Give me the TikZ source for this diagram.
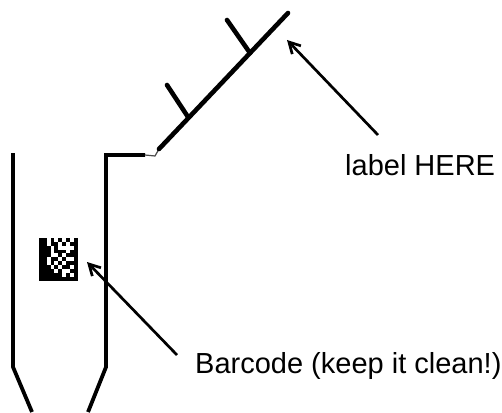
\documentclass[tikz,border=0pt]{standalone}
\usepackage{fontspec}
\setmainfont{Liberation Sans}
\usetikzlibrary{arrows.meta}

\tikzstyle{tubeWall} = [draw, line width=3.8pt, line cap=butt, line join=miter]
\tikzstyle{flagLine} = [draw, line width=4.6pt, line cap=round]
\tikzstyle{neckLine} = [draw, line width=1.2pt, black!70]
\tikzstyle{callout} = [draw, line width=2.7pt, -{Straight Barb[length=11pt,width=12pt,line width=2.7pt]}]
\tikzstyle{noteText} = [anchor=base west, inner sep=0pt, font=\fontsize{29}{34}\selectfont]

\begin{document}
\begin{tikzpicture}[x=1pt, y=-1pt]
		\useasboundingbox (0,0) rectangle (502,412);

		% tube body
		\path [tubeWall] (13,153) -- (13,367) -- (32,412);
		\path [tubeWall] (88,412) -- (106,367) -- (106,155) -- (145,155);
		\path [neckLine] (145,155) -- (155,156) -- (159,149);

		% label flag with its two ticks
		\path [flagLine] (159,149) -- (288,13);
		\path [flagLine] (188,117) -- (167,85);
		\path [flagLine] (250,53) -- (227,20);

		% data matrix code on the tube
		\node (barcode) [inner sep=0pt, minimum width=39pt, minimum height=43pt] at (58.5,259.5) {};
		\foreach \bits [count=\r from 0] in {
				{1,1,0,1,0,1,0,1,0,1},
				{1,1,0,1,1,0,1,0,1,1},
				{1,1,1,0,1,0,0,0,0,1},
				{1,1,1,0,1,1,1,0,1,1},
				{1,1,1,0,0,1,0,1,1,1},
				{1,1,0,1,1,0,1,0,0,1},
				{1,1,0,1,0,1,0,1,1,1},
				{1,1,1,0,1,0,1,1,0,1},
				{1,1,1,1,0,1,0,0,1,1},
				{1,1,1,1,1,1,0,1,0,1},
				{1,1,1,1,1,1,1,1,1,1}} {
			\foreach \b [count=\c from 0] in \bits {
				\ifnum\b=1
					\fill (barcode.north west) ++(3.9*\c,3.9*\r) rectangle ++(3.9,3.9);
				\fi
			}
		}

		% notes
		\node (labelNote) [noteText] at (345,175) {label HERE};
		\node (barcodeNote) [noteText] at (195,373) {Barcode (keep it clean!)};

		\coordinate (labelTail) at (378,135);
		\coordinate (labelTip) at (287,40);
		\coordinate (barcodeTail) at (177,355);
		\coordinate (barcodeTip) at (87,262);

		\path [callout] (labelTail) -- (labelTip);
		\path [callout] (barcodeTail) -- (barcodeTip);
\end{tikzpicture}
\end{document}
